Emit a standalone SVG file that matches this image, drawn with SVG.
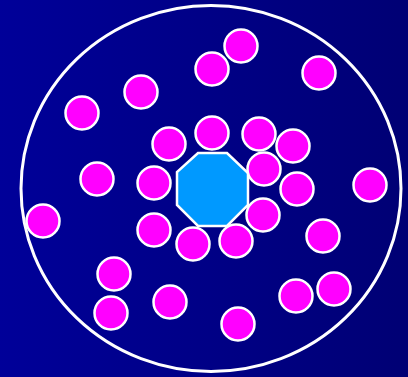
<svg xmlns="http://www.w3.org/2000/svg" width="408" height="377" viewBox="0 0 408 377">
<defs>
<linearGradient id="bg" x1="0" y1="0" x2="1" y2="0">
<stop offset="0" stop-color="#000099"/>
<stop offset="1" stop-color="#000074"/>
</linearGradient>
<style>
.p{fill:#ff00ff;stroke:#fff;stroke-width:2.5}
.o{fill:#0099ff;stroke:#fff;stroke-width:2.5}
</style>
</defs>
<rect width="408" height="377" fill="url(#bg)"/>
<ellipse cx="211" cy="188.5" rx="190" ry="183" fill="none" stroke="#fff" stroke-width="3"/>
<g id="center"><polygon class="o" points="198,153 227,153 248,173 248,205 227,226 198,226 177,205 177,172"/></g>
<g id="particles">
<circle class="p" cx="241" cy="46" r="16.5"/>
<circle class="p" cx="212" cy="69" r="16.5"/>
<circle class="p" cx="319" cy="73" r="16.5"/>
<circle class="p" cx="141" cy="92" r="16.5"/>
<circle class="p" cx="82" cy="113" r="16.5"/>
<circle class="p" cx="212" cy="133" r="16.5"/>
<circle class="p" cx="259" cy="134" r="16.5"/>
<circle class="p" cx="169" cy="144" r="16.5"/>
<circle class="p" cx="293" cy="146" r="16.5"/>
<circle class="p" cx="264" cy="169" r="16.5"/>
<circle class="p" cx="97" cy="179" r="16.5"/>
<circle class="p" cx="154" cy="183" r="16.5"/>
<circle class="p" cx="370" cy="185" r="16.5"/>
<circle class="p" cx="297" cy="189" r="16.5"/>
<circle class="p" cx="263" cy="215" r="16.5"/>
<circle class="p" cx="43" cy="221" r="16.5"/>
<circle class="p" cx="154" cy="230" r="16.5"/>
<circle class="p" cx="323" cy="236" r="16.5"/>
<circle class="p" cx="236" cy="241" r="16.5"/>
<circle class="p" cx="193" cy="244" r="16.5"/>
<circle class="p" cx="114" cy="274" r="16.5"/>
<circle class="p" cx="334" cy="289" r="16.5"/>
<circle class="p" cx="296" cy="296" r="16.5"/>
<circle class="p" cx="170" cy="302" r="16.5"/>
<circle class="p" cx="111" cy="313" r="16.5"/>
<circle class="p" cx="238" cy="324" r="16.5"/>
</g>
</svg>
